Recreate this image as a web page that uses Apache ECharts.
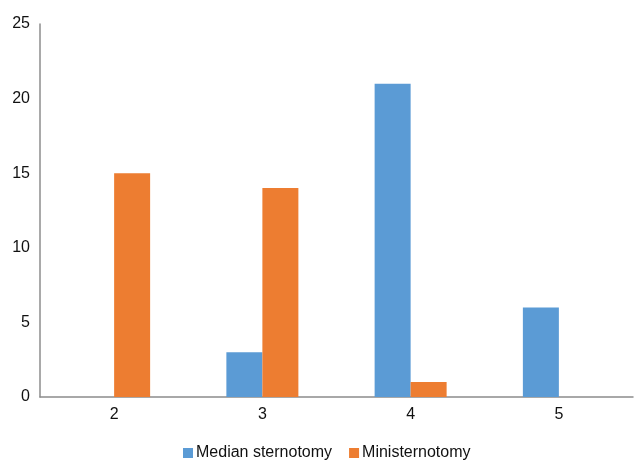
<!DOCTYPE html>
<html>
<head>
<meta charset="utf-8">
<script src="https://cdn.jsdelivr.net/npm/echarts@6/dist/echarts.min.js"></script>
<style>
html,body{margin:0;padding:0;background:#fff;}
#chart{width:634px;height:461px;}
</style>
</head>
<body>
<div id="chart"></div>
<script>
const categories = ['2', '3', '4', '5'];
const medianSternotomy = [0, 3, 21, 6];
const ministernotomy = [15, 14, 1, 0];
const seriesNames = ['Median sternotomy', 'Ministernotomy'];

const chart = echarts.init(document.getElementById('chart'), null, { renderer: 'canvas' });
const font = 'Liberation Sans, Arial, sans-serif';
chart.setOption({
  animation: false,
  textStyle: { fontFamily: font },
  grid: { left: 40, right: 1, top: 24, bottom: 64, containLabel: false },
  legend: {
    top: 440,
    left: 178,
    itemWidth: 10,
    itemHeight: 10,
    itemGap: 17,
    icon: 'rect',
    textStyle: { fontSize: 16, color: '#111', fontFamily: font, padding: [0, 0, 0, -2] },
    data: seriesNames
  },
  xAxis: {
    type: 'category',
    data: categories,
    axisLine: { lineStyle: { color: '#8c8c8c', width: 1.5 } },
    axisTick: { show: false },
    axisLabel: { fontSize: 16, color: '#111', margin: 10, fontFamily: font }
  },
  yAxis: {
    type: 'value',
    min: 0,
    max: 25,
    interval: 5,
    axisLine: { show: true, lineStyle: { color: '#8c8c8c', width: 1.5 } },
    axisTick: { show: false },
    splitLine: { show: false },
    axisLabel: { fontSize: 16, color: '#111', margin: 10, fontFamily: font }
  },
  series: [
    {
      name: seriesNames[0],
      type: 'bar',
      data: medianSternotomy,
      barWidth: 36,
      barGap: '0%',
      itemStyle: { color: '#5b9bd5' }
    },
    {
      name: seriesNames[1],
      type: 'bar',
      data: ministernotomy,
      barWidth: 36,
      barGap: '0%',
      itemStyle: { color: '#ed7d31' }
    }
  ]
});
</script>
</body>
</html>
